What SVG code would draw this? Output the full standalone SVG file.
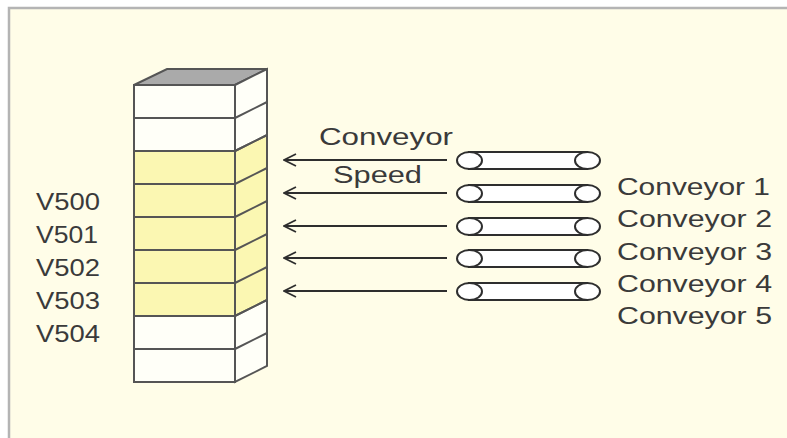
<svg xmlns="http://www.w3.org/2000/svg" width="787" height="438" viewBox="0 0 787 438">
  <style>
    .lbl { font-family: "Liberation Sans", "DejaVu Sans", sans-serif; font-size: 23px; fill: #3a3a3a; }
    .edge { stroke: #555; stroke-width: 2; fill: none; }
    .row { fill: #fffff8; stroke: #555; stroke-width: 2; }
    .row.hot { fill: #fbf7b2; }
    .tube { fill: #ffffff; stroke: #2e2e2e; stroke-width: 2; }
    .wire { stroke: #2e2e2e; stroke-width: 1.8; fill: none; }
  </style>
  <defs>
    <marker id="openHead" viewBox="0 0 14 14" refX="13" refY="7" markerWidth="14" markerHeight="14" markerUnits="userSpaceOnUse" orient="auto">
      <path d="M1,1 L13,7 L1,13" fill="none" stroke="#2e2e2e" stroke-width="1.8"/>
    </marker>
  </defs>

  <!-- panel -->
  <rect x="0" y="0" width="787" height="438" fill="#ffffff"/>
  <rect x="9" y="8" width="790" height="440" fill="#fffde8" stroke="#b4b4b4" stroke-width="2.5"/>

  <!-- register stack -->
  <g id="register-stack">
    <polygon points="134,85 167,69 267,69 235,85" fill="#aaaaaa" stroke="#555" stroke-width="2"/>
    <polygon points="235,85 267,69 267,366 235,382" fill="#fffff8" stroke="#555" stroke-width="2"/>
    <polygon points="235,151 267,135 267,300 235,316" fill="#fbf7b2" stroke="#555" stroke-width="2"/>
    <rect class="row" x="134" y="85" width="101" height="33"/>
    <rect class="row" x="134" y="118" width="101" height="33"/>
    <rect class="row hot" x="134" y="151" width="101" height="33"/>
    <rect class="row hot" x="134" y="184" width="101" height="33"/>
    <rect class="row hot" x="134" y="217" width="101" height="33"/>
    <rect class="row hot" x="134" y="250" width="101" height="33"/>
    <rect class="row hot" x="134" y="283" width="101" height="33"/>
    <rect class="row" x="134" y="316" width="101" height="33"/>
    <rect class="row" x="134" y="349" width="101" height="33"/>
    <path class="edge" d="M235,118 L267,102 M235,151 L267,135 M235,184 L267,168 M235,217 L267,201 M235,250 L267,234 M235,283 L267,267 M235,316 L267,300 M235,349 L267,333"/>
  </g>

  <!-- register addresses -->
  <g id="addresses">
    <text class="lbl" x="36" y="210" textLength="64" lengthAdjust="spacingAndGlyphs">V500</text>
    <text class="lbl" x="36" y="243" textLength="62" lengthAdjust="spacingAndGlyphs">V501</text>
    <text class="lbl" x="36" y="276" textLength="64" lengthAdjust="spacingAndGlyphs">V502</text>
    <text class="lbl" x="36" y="309" textLength="64" lengthAdjust="spacingAndGlyphs">V503</text>
    <text class="lbl" x="36" y="342" textLength="64" lengthAdjust="spacingAndGlyphs">V504</text>
  </g>

  <!-- speed signals -->
  <g id="connectors">
    <line class="wire" x1="447" y1="160" x2="284" y2="160" marker-end="url(#openHead)"/>
    <line class="wire" x1="447" y1="193" x2="284" y2="193" marker-end="url(#openHead)"/>
    <line class="wire" x1="447" y1="226" x2="284" y2="226" marker-end="url(#openHead)"/>
    <line class="wire" x1="447" y1="258" x2="284" y2="258" marker-end="url(#openHead)"/>
    <line class="wire" x1="447" y1="291" x2="284" y2="291" marker-end="url(#openHead)"/>
  </g>
  <g id="speed-label">
    <text class="lbl" x="319" y="145" textLength="134" lengthAdjust="spacingAndGlyphs">Conveyor</text>
    <text class="lbl" x="333" y="183" textLength="89" lengthAdjust="spacingAndGlyphs">Speed</text>
  </g>

  <!-- conveyors -->
  <g id="conveyor-1">
    <rect class="tube" x="469" y="152" width="118" height="17"/>
    <ellipse class="tube" cx="469.5" cy="160.5" rx="12.5" ry="8.5"/>
    <ellipse class="tube" cx="587.5" cy="160.5" rx="12.5" ry="8.5"/>
  </g>
  <g id="conveyor-2">
    <rect class="tube" x="469" y="185" width="118" height="17"/>
    <ellipse class="tube" cx="469.5" cy="193.5" rx="12.5" ry="8.5"/>
    <ellipse class="tube" cx="587.5" cy="193.5" rx="12.5" ry="8.5"/>
  </g>
  <g id="conveyor-3">
    <rect class="tube" x="469" y="218" width="118" height="17"/>
    <ellipse class="tube" cx="469.5" cy="226.5" rx="12.5" ry="8.5"/>
    <ellipse class="tube" cx="587.5" cy="226.5" rx="12.5" ry="8.5"/>
  </g>
  <g id="conveyor-4">
    <rect class="tube" x="469" y="250" width="118" height="17"/>
    <ellipse class="tube" cx="469.5" cy="258.5" rx="12.5" ry="8.5"/>
    <ellipse class="tube" cx="587.5" cy="258.5" rx="12.5" ry="8.5"/>
  </g>
  <g id="conveyor-5">
    <rect class="tube" x="469" y="283" width="118" height="17"/>
    <ellipse class="tube" cx="469.5" cy="291.5" rx="12.5" ry="8.5"/>
    <ellipse class="tube" cx="587.5" cy="291.5" rx="12.5" ry="8.5"/>
  </g>

  <!-- conveyor names -->
  <g id="conveyor-names">
    <text class="lbl" x="617" y="195" textLength="153" lengthAdjust="spacingAndGlyphs">Conveyor 1</text>
    <text class="lbl" x="617" y="227" textLength="155" lengthAdjust="spacingAndGlyphs">Conveyor 2</text>
    <text class="lbl" x="617" y="260" textLength="155" lengthAdjust="spacingAndGlyphs">Conveyor 3</text>
    <text class="lbl" x="617" y="292" textLength="155" lengthAdjust="spacingAndGlyphs">Conveyor 4</text>
    <text class="lbl" x="617" y="324" textLength="155" lengthAdjust="spacingAndGlyphs">Conveyor 5</text>
  </g>
</svg>
